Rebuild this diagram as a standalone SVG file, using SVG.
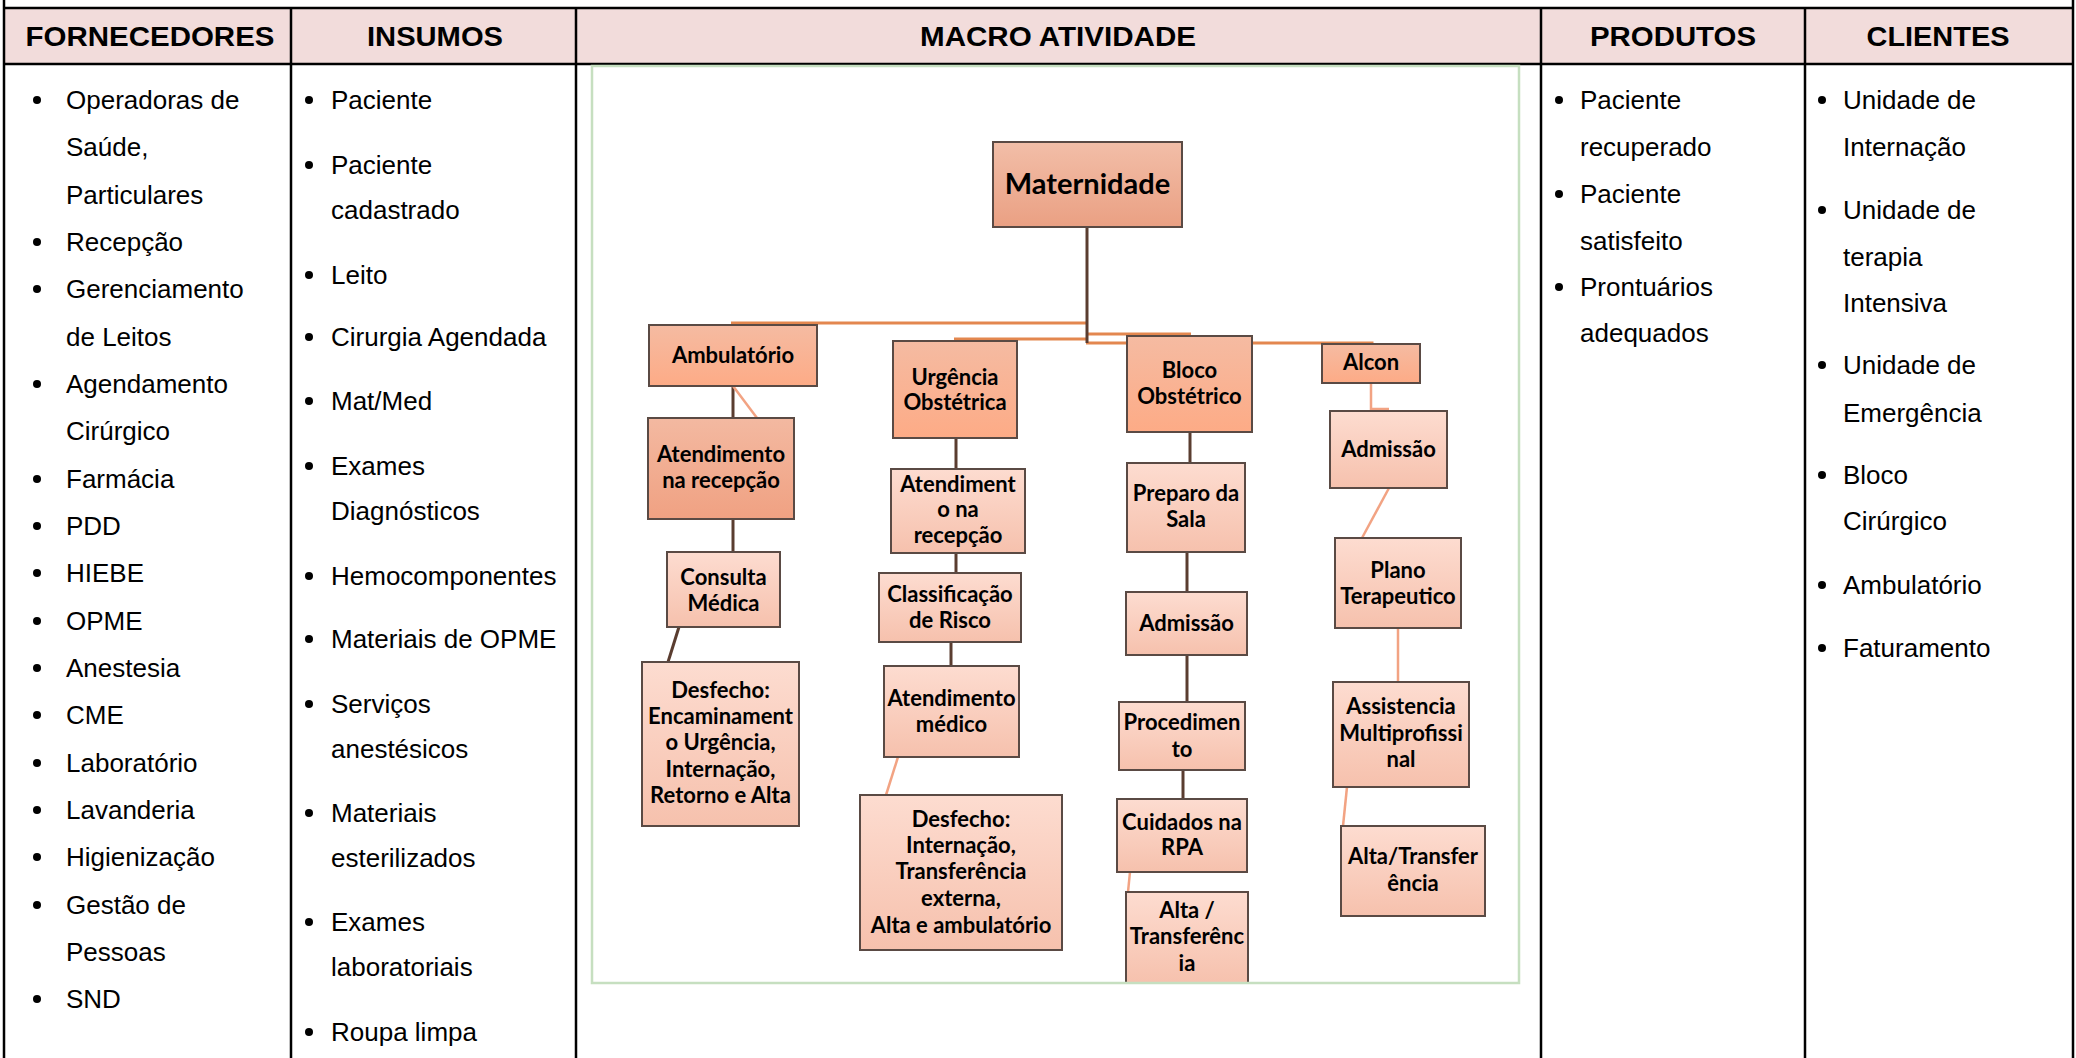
<svg xmlns="http://www.w3.org/2000/svg" width="2076" height="1058" viewBox="0 0 2076 1058">
<defs>
<linearGradient id="gMat" x1="0" y1="0" x2="0" y2="1"><stop offset="0" stop-color="#f2bea8"/><stop offset="1" stop-color="#eaa083"/></linearGradient>
<linearGradient id="gDark" x1="0" y1="0" x2="0" y2="1"><stop offset="0" stop-color="#f5bba2"/><stop offset="1" stop-color="#fdab86"/></linearGradient>
<linearGradient id="gRec" x1="0" y1="0" x2="0" y2="1"><stop offset="0" stop-color="#f3b9a1"/><stop offset="1" stop-color="#f0a182"/></linearGradient>
<linearGradient id="gLight" x1="0" y1="0" x2="0" y2="1"><stop offset="0" stop-color="#fddcd0"/><stop offset="1" stop-color="#f6c1ad"/></linearGradient>
</defs>
<style>
.hdr{font-family:"Liberation Sans",Arial,sans-serif;font-weight:bold;font-size:27px;fill:#000;text-anchor:middle}
.body{font-family:"Liberation Sans",Arial,sans-serif;font-size:26px;fill:#000}
.tl{stroke:#000;stroke-width:2.5;fill:none}
.bul{fill:#000}
.nb{stroke:#5a4a44;stroke-width:2}
.nt{font-family:Lato,"Open Sans",sans-serif;font-weight:bold;font-size:22px;fill:#000;text-anchor:middle}
.dk{stroke:#5a3d30;stroke-width:3;fill:none}
.or{stroke:#e3874f;stroke-width:3;fill:none}
.lo{stroke:#f2a383;stroke-width:2.5;fill:none}
</style>
<rect width="2076" height="1058" fill="#ffffff"/>
<g id="table">
<rect x="4" y="8" width="2069" height="56" fill="#f2dcdb"/>
<line class="tl" x1="4" y1="0" x2="4" y2="1058"/>
<line class="tl" x1="2073" y1="0" x2="2073" y2="1058"/>
<line class="tl" x1="4" y1="8" x2="2073" y2="8"/>
<line class="tl" x1="4" y1="64" x2="2073" y2="64"/>
<line class="tl" x1="291" y1="8" x2="291" y2="1058"/>
<line class="tl" x1="576" y1="8" x2="576" y2="1058"/>
<line class="tl" x1="1541" y1="8" x2="1541" y2="1058"/>
<line class="tl" x1="1805" y1="8" x2="1805" y2="1058"/>
<text class="hdr" x="150" y="46" textLength="249" lengthAdjust="spacingAndGlyphs">FORNECEDORES</text>
<text class="hdr" x="435" y="46" textLength="136" lengthAdjust="spacingAndGlyphs">INSUMOS</text>
<text class="hdr" x="1058" y="46" textLength="276" lengthAdjust="spacingAndGlyphs">MACRO ATIVIDADE</text>
<text class="hdr" x="1673" y="46" textLength="166" lengthAdjust="spacingAndGlyphs">PRODUTOS</text>
<text class="hdr" x="1938" y="46" textLength="143" lengthAdjust="spacingAndGlyphs">CLIENTES</text>
</g>
<g id="fornecedores" transform="translate(0,3)">
<g class="bul">
<circle cx="37" cy="97" r="4"/><circle cx="37" cy="239" r="4"/><circle cx="37" cy="286" r="4"/><circle cx="37" cy="381" r="4"/><circle cx="37" cy="476" r="4"/><circle cx="37" cy="523" r="4"/><circle cx="37" cy="570" r="4"/><circle cx="37" cy="618" r="4"/><circle cx="37" cy="665" r="4"/><circle cx="37" cy="712" r="4"/><circle cx="37" cy="760" r="4"/><circle cx="37" cy="807" r="4"/><circle cx="37" cy="854" r="4"/><circle cx="37" cy="902" r="4"/><circle cx="37" cy="996" r="4"/>
</g>
<text class="body" x="66" y="106">Operadoras de</text>
<text class="body" x="66" y="153">Saúde,</text>
<text class="body" x="66" y="201">Particulares</text>
<text class="body" x="66" y="248">Recepção</text>
<text class="body" x="66" y="295">Gerenciamento</text>
<text class="body" x="66" y="343">de Leitos</text>
<text class="body" x="66" y="390">Agendamento</text>
<text class="body" x="66" y="437">Cirúrgico</text>
<text class="body" x="66" y="485">Farmácia</text>
<text class="body" x="66" y="532">PDD</text>
<text class="body" x="66" y="579">HIEBE</text>
<text class="body" x="66" y="627">OPME</text>
<text class="body" x="66" y="674">Anestesia</text>
<text class="body" x="66" y="721">CME</text>
<text class="body" x="66" y="769">Laboratório</text>
<text class="body" x="66" y="816">Lavanderia</text>
<text class="body" x="66" y="863">Higienização</text>
<text class="body" x="66" y="911">Gestão de</text>
<text class="body" x="66" y="958">Pessoas</text>
<text class="body" x="66" y="1005">SND</text>
</g>
<g id="insumos" transform="translate(0,3)">
<g class="bul">
<circle cx="309" cy="97" r="4"/><circle cx="309" cy="162" r="4"/><circle cx="309" cy="272" r="4"/><circle cx="309" cy="334" r="4"/><circle cx="309" cy="398" r="4"/><circle cx="309" cy="463" r="4"/><circle cx="309" cy="573" r="4"/><circle cx="309" cy="636" r="4"/><circle cx="309" cy="701" r="4"/><circle cx="309" cy="810" r="4"/><circle cx="309" cy="919" r="4"/><circle cx="309" cy="1029" r="4"/>
</g>
<text class="body" x="331" y="106">Paciente</text>
<text class="body" x="331" y="171">Paciente</text>
<text class="body" x="331" y="216">cadastrado</text>
<text class="body" x="331" y="281">Leito</text>
<text class="body" x="331" y="343">Cirurgia Agendada</text>
<text class="body" x="331" y="407">Mat/Med</text>
<text class="body" x="331" y="472">Exames</text>
<text class="body" x="331" y="517">Diagnósticos</text>
<text class="body" x="331" y="582">Hemocomponentes</text>
<text class="body" x="331" y="645">Materiais de OPME</text>
<text class="body" x="331" y="710">Serviços</text>
<text class="body" x="331" y="755">anestésicos</text>
<text class="body" x="331" y="819">Materiais</text>
<text class="body" x="331" y="864">esterilizados</text>
<text class="body" x="331" y="928">Exames</text>
<text class="body" x="331" y="973">laboratoriais</text>
<text class="body" x="331" y="1038">Roupa limpa</text>
</g>
<g id="produtos" transform="translate(0,3)">
<g class="bul"><circle cx="1559" cy="97" r="4"/><circle cx="1559" cy="191" r="4"/><circle cx="1559" cy="284" r="4"/></g>
<text class="body" x="1580" y="106">Paciente</text>
<text class="body" x="1580" y="153">recuperado</text>
<text class="body" x="1580" y="200">Paciente</text>
<text class="body" x="1580" y="247">satisfeito</text>
<text class="body" x="1580" y="293">Prontuários</text>
<text class="body" x="1580" y="339">adequados</text>
</g>
<g id="clientes" transform="translate(0,3)">
<g class="bul"><circle cx="1822" cy="97" r="4"/><circle cx="1822" cy="207" r="4"/><circle cx="1822" cy="362" r="4"/><circle cx="1822" cy="472" r="4"/><circle cx="1822" cy="582" r="4"/><circle cx="1822" cy="645" r="4"/></g>
<text class="body" x="1843" y="106">Unidade de</text>
<text class="body" x="1843" y="153">Internação</text>
<text class="body" x="1843" y="216">Unidade de</text>
<text class="body" x="1843" y="263">terapia</text>
<text class="body" x="1843" y="309">Intensiva</text>
<text class="body" x="1843" y="371">Unidade de</text>
<text class="body" x="1843" y="419">Emergência</text>
<text class="body" x="1843" y="481">Bloco</text>
<text class="body" x="1843" y="527">Cirúrgico</text>
<text class="body" x="1843" y="591">Ambulatório</text>
<text class="body" x="1843" y="654">Faturamento</text>
</g>
<g id="connectors">
<line class="or" x1="731" y1="323" x2="1087" y2="323"/>
<line class="or" x1="954" y1="339" x2="1087" y2="339"/>
<line class="or" x1="1087" y1="334" x2="1191" y2="334"/>
<polyline class="or" points="1086,343 1372,343 1372,346"/>
<line class="dk" x1="1087" y1="227" x2="1087" y2="343"/>
<line class="dk" x1="733" y1="386" x2="733" y2="418"/>
<line class="lo" x1="733" y1="386" x2="757" y2="418"/>
<line class="dk" x1="733" y1="519" x2="733" y2="552"/>
<line class="dk" x1="679" y1="627" x2="668" y2="662"/>
<line class="dk" x1="956" y1="438" x2="956" y2="469"/>
<line class="dk" x1="956" y1="553" x2="956" y2="573"/>
<line class="dk" x1="951" y1="642" x2="951" y2="666"/>
<line class="lo" x1="898" y1="757" x2="886" y2="795"/>
<line class="dk" x1="1190" y1="432" x2="1190" y2="463"/>
<line class="dk" x1="1187" y1="552" x2="1187" y2="592"/>
<line class="dk" x1="1187" y1="655" x2="1187" y2="702"/>
<line class="dk" x1="1183" y1="770" x2="1183" y2="799"/>
<line class="lo" x1="1130" y1="872" x2="1128" y2="892"/>
<polyline class="lo" points="1371,383 1371,409 1389,409"/>
<line class="lo" x1="1389" y1="488" x2="1362" y2="538"/>
<line class="lo" x1="1398" y1="628" x2="1398" y2="682"/>
<line class="lo" x1="1347" y1="787" x2="1343" y2="826"/>
</g>
<g id="maternidade"><rect class="nb" x="993" y="142" width="189" height="85" fill="url(#gMat)"/><text class="nt" x="1087.5" y="194" style="font-size:29px">Maternidade</text></g>
<g id="ambulatorio"><rect class="nb" x="649" y="325" width="168" height="61" fill="url(#gDark)"/><text class="nt" x="733" y="363">Ambulatório</text></g>
<g id="amb-recepcao"><rect class="nb" x="648" y="418" width="146" height="101" fill="url(#gRec)"/><text class="nt" x="721" y="462">Atendimento</text><text class="nt" x="721" y="488">na recepção</text></g>
<g id="consulta"><rect class="nb" x="667" y="552" width="113" height="75" fill="url(#gLight)"/><text class="nt" x="723.5" y="585">Consulta</text><text class="nt" x="723.5" y="611">Médica</text></g>
<g id="desfecho-amb"><rect class="nb" x="642" y="662" width="157" height="164" fill="url(#gLight)"/><text class="nt" x="720.5" y="698">Desfecho:</text><text class="nt" x="720.5" y="724">Encaminament</text><text class="nt" x="720.5" y="750">o Urgência,</text><text class="nt" x="720.5" y="777">Internação,</text><text class="nt" x="720.5" y="803">Retorno e Alta</text></g>
<g id="urgencia"><rect class="nb" x="893" y="341" width="124" height="97" fill="url(#gDark)"/><text class="nt" x="955" y="385">Urgência</text><text class="nt" x="955" y="410">Obstétrica</text></g>
<g id="urg-recepcao"><rect class="nb" x="891" y="469" width="134" height="84" fill="url(#gLight)"/><text class="nt" x="958" y="492">Atendiment</text><text class="nt" x="958" y="517">o na</text><text class="nt" x="958" y="543">recepção</text></g>
<g id="classificacao"><rect class="nb" x="879" y="573" width="142" height="69" fill="url(#gLight)"/><text class="nt" x="950" y="602">Classificação</text><text class="nt" x="950" y="628">de Risco</text></g>
<g id="atend-medico"><rect class="nb" x="884" y="666" width="135" height="91" fill="url(#gLight)"/><text class="nt" x="951.5" y="706">Atendimento</text><text class="nt" x="951.5" y="732">médico</text></g>
<g id="desfecho-urg"><rect class="nb" x="860" y="795" width="202" height="155" fill="url(#gLight)"/><text class="nt" x="961" y="827">Desfecho:</text><text class="nt" x="961" y="853">Internação,</text><text class="nt" x="961" y="879">Transferência</text><text class="nt" x="961" y="906">externa,</text><text class="nt" x="961" y="933">Alta e ambulatório</text></g>
<g id="bloco"><rect class="nb" x="1127" y="336" width="125" height="96" fill="url(#gDark)"/><text class="nt" x="1189.5" y="378">Bloco</text><text class="nt" x="1189.5" y="404">Obstétrico</text></g>
<g id="preparo"><rect class="nb" x="1127" y="463" width="118" height="89" fill="url(#gLight)"/><text class="nt" x="1186" y="501">Preparo da</text><text class="nt" x="1186" y="527">Sala</text></g>
<g id="admissao-bloco"><rect class="nb" x="1126" y="592" width="121" height="63" fill="url(#gLight)"/><text class="nt" x="1186.5" y="631">Admissão</text></g>
<g id="procedimento"><rect class="nb" x="1119" y="702" width="126" height="68" fill="url(#gLight)"/><text class="nt" x="1182" y="730">Procedimen</text><text class="nt" x="1182" y="757">to</text></g>
<g id="cuidados"><rect class="nb" x="1117" y="799" width="130" height="73" fill="url(#gLight)"/><text class="nt" x="1182" y="830">Cuidados na</text><text class="nt" x="1182" y="855">RPA</text></g>
<g id="alta-bloco"><rect x="1126" y="892" width="122" height="92" fill="url(#gLight)"/><path class="nb" d="M1126,984 V892 H1248 V984" fill="none"/><text class="nt" x="1187" y="918">Alta /</text><text class="nt" x="1187" y="944">Transferênc</text><text class="nt" x="1187" y="971">ia</text></g>
<g id="alcon"><rect class="nb" x="1322" y="344" width="98" height="39" fill="url(#gDark)"/><text class="nt" x="1371" y="370">Alcon</text></g>
<g id="admissao-alcon"><rect class="nb" x="1330" y="411" width="117" height="77" fill="url(#gLight)"/><text class="nt" x="1388.5" y="457">Admissão</text></g>
<g id="plano"><rect class="nb" x="1335" y="538" width="126" height="90" fill="url(#gLight)"/><text class="nt" x="1398" y="578">Plano</text><text class="nt" x="1398" y="604">Terapeutico</text></g>
<g id="assistencia"><rect class="nb" x="1333" y="682" width="136" height="105" fill="url(#gLight)"/><text class="nt" x="1401" y="714">Assistencia</text><text class="nt" x="1401" y="741">Multiprofissi</text><text class="nt" x="1401" y="767">nal</text></g>
<g id="alta-alcon"><rect class="nb" x="1341" y="826" width="144" height="90" fill="url(#gLight)"/><text class="nt" x="1413" y="864">Alta/Transfer</text><text class="nt" x="1413" y="891">ência</text></g>
<rect id="frame" x="592" y="66" width="927" height="917" fill="none" stroke="#c6dfc0" stroke-width="2.5"/>
</svg>
